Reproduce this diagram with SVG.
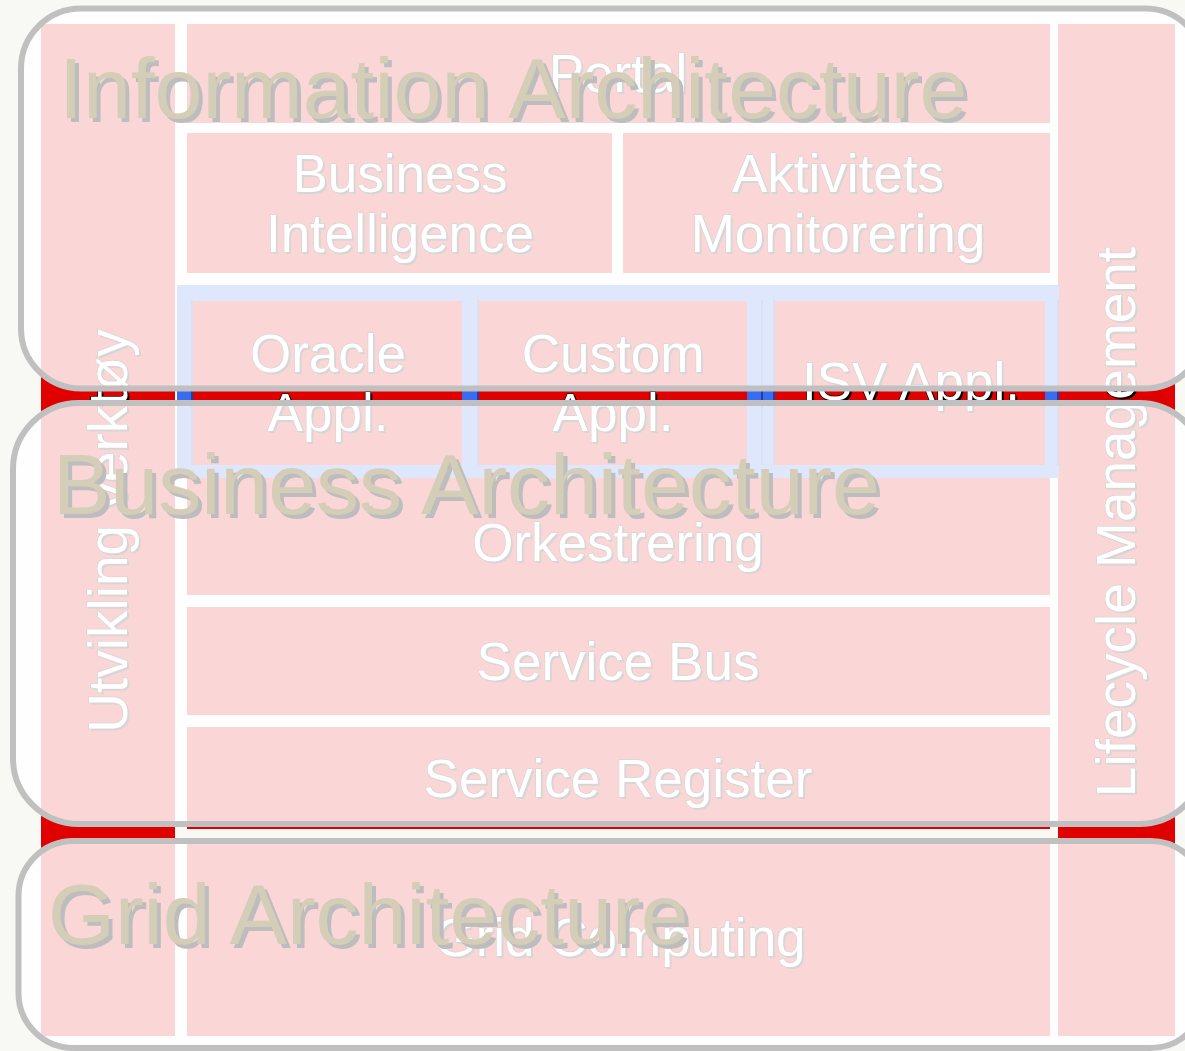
<svg xmlns="http://www.w3.org/2000/svg" width="1185" height="1051" viewBox="0 0 1185 1051">
<style>
.red{fill:#e10000}
.blue{fill:#3a6cf0}
.dk{fill:#1f3fa8}
.lbl{font-family:"Liberation Sans",Arial,Helvetica,sans-serif;font-size:53px;text-anchor:middle;fill:#ffffff;stroke:#000000;stroke-width:1.5;paint-order:stroke}
.lsh{font-family:"Liberation Sans",Arial,Helvetica,sans-serif;font-size:53px;text-anchor:middle;fill:#000000}
.rot{font-size:55px}
.ov{fill:#ffffff;fill-opacity:0.84;stroke:#c0c0c0;stroke-width:6}
.ttl{font-family:"Liberation Sans",Arial,Helvetica,sans-serif;font-size:86px;fill:#d4cdb8}
.tsh{font-family:"Liberation Sans",Arial,Helvetica,sans-serif;font-size:86px;fill:#bdbdbd}
</style>
<rect x="0" y="0" width="1185" height="1051" fill="#f8f8f4"/>

<g id="tools">
<rect class="red" x="41" y="24" width="134" height="1012"/>
<text class="lsh rot" transform="translate(129,533) rotate(-90)">Utvikling verktøy</text>
<text class="lbl rot" transform="translate(127,531) rotate(-90)">Utvikling verktøy</text>
</g>
<g id="lifecycle">
<rect class="red" x="1058" y="24" width="117" height="1012"/>
<text class="lsh rot" transform="translate(1137,524) rotate(-90)">Lifecycle Management</text>
<text class="lbl rot" transform="translate(1135,522) rotate(-90)">Lifecycle Management</text>
</g>
<g id="portal">
<rect class="red" x="187" y="24" width="863" height="99"/>
<text class="lsh" x="620" y="94">Portal</text>
<text class="lbl" x="618" y="92">Portal</text>
</g>
<g id="bi">
<rect class="red" x="187" y="133" width="425" height="140"/>
<text class="lsh" x="402" y="194">Business</text>
<text class="lbl" x="400" y="192">Business</text>
<text class="lsh" x="402" y="254">Intelligence</text>
<text class="lbl" x="400" y="252">Intelligence</text>
</g>
<g id="bam">
<rect class="red" x="623" y="133" width="427" height="140"/>
<text class="lsh" x="840" y="194">Aktivitets</text>
<text class="lbl" x="838" y="192">Aktivitets</text>
<text class="lsh" x="840" y="254">Monitorering</text>
<text class="lbl" x="838" y="252">Monitorering</text>
</g>
<g id="orchestration">
<rect class="red" x="187" y="470" width="863" height="125"/>
<text class="lsh" x="620" y="563">Orkestrering</text>
<text class="lbl" x="618" y="561">Orkestrering</text>
</g>
<g id="apps-frame">
<rect class="blue" x="177" y="285" width="882" height="193"/>
<rect class="dk" x="191" y="300" width="2" height="165"/>
<rect class="dk" x="477" y="300" width="2" height="165"/>
<rect class="dk" x="761" y="300" width="2" height="165"/>
<rect class="dk" x="773" y="300" width="2" height="165"/>
<rect class="dk" x="1057" y="300" width="2" height="165"/>
</g>
<g id="oracle-appl">
<rect class="red" x="193" y="301" width="269" height="164"/>
<text class="lsh" x="330" y="374">Oracle</text>
<text class="lbl" x="328" y="372">Oracle</text>
<text class="lsh" x="330" y="433">Appl.</text>
<text class="lbl" x="328" y="431">Appl.</text>
</g>
<g id="custom-appl">
<rect class="red" x="479" y="301" width="268" height="164"/>
<text class="lsh" x="615" y="374">Custom</text>
<text class="lbl" x="613" y="372">Custom</text>
<text class="lsh" x="615" y="433">Appl.</text>
<text class="lbl" x="613" y="431">Appl.</text>
</g>
<g id="isv-appl">
<rect class="red" x="775" y="301" width="270" height="164"/>
<text class="lsh" x="913" y="402">ISV Appl.</text>
<text class="lbl" x="911" y="400">ISV Appl.</text>
</g>
<g id="service-bus">
<rect class="red" x="187" y="607" width="863" height="108"/>
<text class="lsh" x="620" y="682">Service Bus</text>
<text class="lbl" x="618" y="680">Service Bus</text>
</g>
<g id="service-register">
<rect class="red" x="187" y="727" width="863" height="102"/>
<text class="lsh" x="620" y="799">Service Register</text>
<text class="lbl" x="618" y="797">Service Register</text>
</g>
<g id="grid-computing">
<rect class="red" x="187" y="838" width="863" height="198"/>
<text class="lsh" x="622" y="958">Grid Computing</text>
<text class="lbl" x="620" y="956">Grid Computing</text>
</g>

<g id="connectors"></g>

<g id="information-architecture">
<rect class="ov" x="21" y="8.5" width="1184" height="380" rx="60" ry="60"/>
<text class="tsh" x="63" y="122">Information Architecture</text>
<text class="ttl" x="59" y="118">Information Architecture</text>
</g>
<g id="business-architecture">
<rect class="ov" x="13" y="403" width="1192" height="421" rx="66" ry="66"/>
<text class="tsh" x="57" y="518">Business Architecture</text>
<text class="ttl" x="53" y="514">Business Architecture</text>
</g>
<g id="grid-architecture">
<rect class="ov" x="18.5" y="841" width="1187" height="207" rx="55" ry="55"/>
<text class="tsh" x="52" y="948">Grid Architecture</text>
<text class="ttl" x="48" y="944">Grid Architecture</text>
</g>
</svg>
